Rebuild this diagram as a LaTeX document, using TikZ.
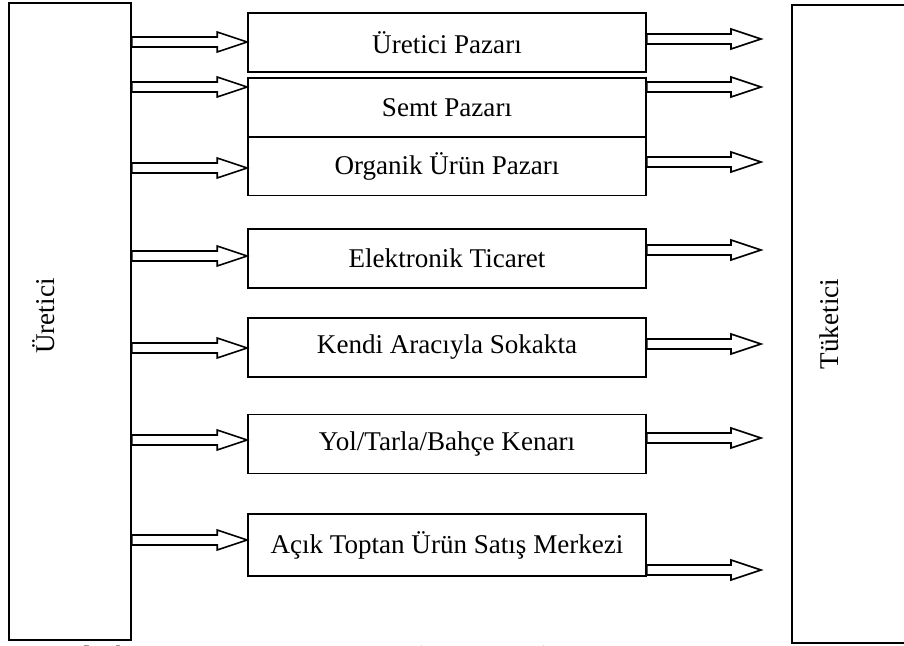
\documentclass[tikz,border=0pt]{standalone}
\usepackage{fontspec}
\setmainfont{Liberation Serif}
\usetikzlibrary{calc}

\tikzset{
  box/.style={draw, line width=1.2pt, minimum width=298.5pt, minimum height=44pt, inner sep=0pt, font=\fontsize{20.3}{24}\selectfont},
  side/.style={draw, line width=1.2pt, inner sep=0pt},
  sidelabel/.style={rotate=90, inner sep=0pt, font=\fontsize{20.3}{24}\selectfont},
  fatline/.style={line width=1.2pt, line join=miter}
}
% outlined block arrow from #1 to tip #2
\newcommand{\fatarrow}[2]{%
  \draw[fatline] ($(#1)+(0,-5)$) -- ($(#2)+(-30,-5)$) -- ($(#2)+(-30,-10)$) -- (#2)
    -- ($(#2)+(-30,10)$) -- ($(#2)+(-30,5)$) -- ($(#1)+(0,5)$) -- cycle;}

\begin{document}
\begin{tikzpicture}[x=0.75pt, y=-0.75pt]
\useasboundingbox (0,0) rectangle (904,646);

% producer and consumer
\node[side, minimum width=91.5pt, minimum height=477.75pt] (U) at (70,321.5) {};
\node[sidelabel] (Ulbl) at (44,316) {Üretici};
\node[side, minimum width=85.5pt, minimum height=478.5pt] (T) at (849,324) {};
\node[sidelabel] (Tlbl) at (829,324) {Tüketici};

% channels
\node[box] (P1) at (447,42.5) {Üretici Pazarı};
\node[box] (P2) at (447,107.5) {Semt Pazarı};
\node[box] (P3) at (447,166) {Organik Ürün Pazarı};
\node[box] (P4) at (447,258.5) {Elektronik Ticaret};
\node[box] (P5) at (447,347.5) {Kendi Aracıyla Sokakta};
\node[box] (P6) at (447,444) {Yol/Tarla/Bahçe Kenarı};
\node[box, minimum height=46.5pt] (P7) at (447,545) {Açık Toptan Ürün Satış Merkezi};

\coordinate (tipx) at (761,0);

\foreach \b/\ly/\ry in {P1/42/39, P2/87/87, P3/168/162, P4/256/250, P5/348/344, P6/440/438, P7/540/570} {
  \fatarrow{U.east |- 0,\ly}{\b.west |- 0,\ly}
  \fatarrow{\b.east |- 0,\ry}{tipx |- 0,\ry}
}

% source line (cut by the page edge, as in the original)
\node[anchor=base west, inner sep=0pt, font=\fontsize{19.9}{24}\selectfont] (src) at (8,664) {\textbf{Kaynak:} http://www.\hspace{6.5em}(27.01.2013)};
\end{tikzpicture}
\end{document}
